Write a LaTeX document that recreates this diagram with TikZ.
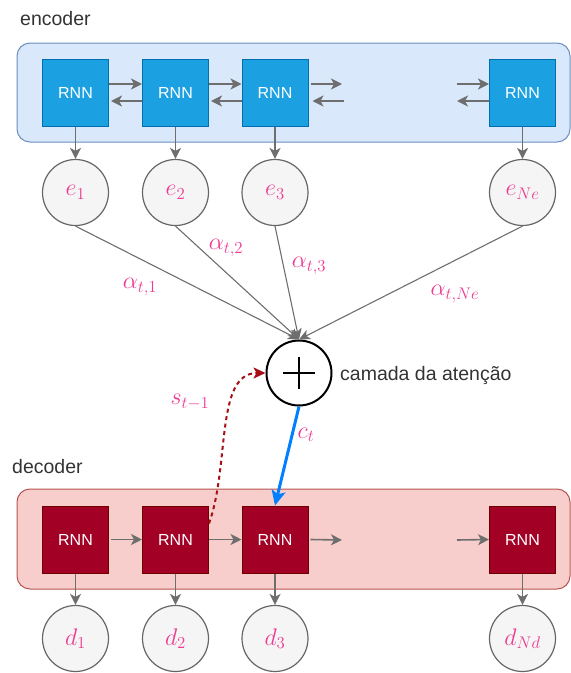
\RequirePackage{fix-cm}
\documentclass[tikz,border=0pt]{standalone}
\usepackage{fontspec}
\setmainfont{Liberation Sans}
\usetikzlibrary{arrows.meta,calc}
\definecolor{encfill}{HTML}{DAE8FC}
\definecolor{encline}{HTML}{6C8EBF}
\definecolor{encbox}{HTML}{1BA1E2}
\definecolor{encboxline}{HTML}{006EAF}
\definecolor{decfill}{HTML}{F8CECC}
\definecolor{decline}{HTML}{B85450}
\definecolor{decbox}{HTML}{A20025}
\definecolor{decboxline}{HTML}{6F0000}
\definecolor{circfill}{HTML}{F5F5F5}
\definecolor{circline}{HTML}{666666}
\definecolor{arrgray}{HTML}{6E6E6E}
\definecolor{pinkm}{HTML}{EE3A92}
\definecolor{ctblue}{HTML}{007FFF}
\definecolor{dotred}{HTML}{A50F15}
\definecolor{txt}{HTML}{333333}
\begin{document}
\begin{tikzpicture}[x=1pt,y=-1pt,
  container/.style={rectangle, rounded corners=13pt, line width=1pt, minimum width=553pt, inner sep=0pt},
  rnnbox/.style={rectangle, minimum width=66pt, minimum height=67pt, inner sep=0pt, line width=1pt, text=white, font=\fontsize{16}{19}\selectfont},
  encrnn/.style={rnnbox, draw=encboxline, fill=encbox},
  decrnn/.style={rnnbox, draw=decboxline, fill=decbox},
  circ/.style={circle, draw=circline, fill=circfill, minimum size=66pt, inner sep=0pt, line width=1.2pt, text=pinkm, font=\fontsize{24}{28}\selectfont},
  mlabel/.style={text=pinkm, font=\fontsize{24}{28}\selectfont, inner sep=0pt},
  plainlabel/.style={text=txt, font=\fontsize{19.5}{23}\selectfont, inner sep=0pt, anchor=west},
  garrow/.style={draw=arrgray, line width=1.6pt, -{Stealth[length=11pt,width=11pt,inset=3pt]}},
  farrow/.style={draw=arrgray, line width=1.1pt, -{Stealth[length=11pt,width=10pt,inset=3pt]}},
  ctarrow/.style={draw=ctblue, line width=3pt, -{Stealth[length=15pt,width=14pt,inset=3.5pt]}},
  redarrow/.style={draw=dotred, line width=2pt, dash pattern=on 4pt off 3.5pt, -{Stealth[length=12pt,width=11pt,inset=3pt]}}
]
\useasboundingbox (0,0) rectangle (571,673);

% labels
\node[plainlabel] (enclabel) at (20,19) {encoder};
\node[plainlabel] (declabel) at (12,467) {decoder};

% containers
\node[container, fill=encfill, draw=encline, minimum height=99pt] (enc) at (293.5,92.5) {};
\node[container, fill=decfill, draw=decline, minimum height=100pt] (dec) at (293.5,539) {};

% encoder RNNs
\node[encrnn] (eb1) at (75.5,93) {RNN};
\node[encrnn] (eb2) at (175.5,93) {RNN};
\node[encrnn] (eb3) at (275,93) {RNN};
\node[encrnn] (eb4) at (522.5,93) {RNN};

% decoder RNNs
\node[decrnn] (db1) at (75.5,539.5) {RNN};
\node[decrnn] (db2) at (175.5,539.5) {RNN};
\node[decrnn] (db3) at (275,539.5) {RNN};
\node[decrnn] (db4) at (522.5,539.5) {RNN};

% encoder outputs
\node[circ] (e1) at (75.5,192.5) {$e_1$};
\node[circ] (e2) at (175.5,192.5) {$e_2$};
\node[circ] (e3) at (275,192.5) {$e_3$};
\node[circ] (eNe) at (522.5,192.5) {$e_{Ne}$};

% decoder outputs
\node[circ] (d1) at (75.5,638.5) {$d_1$};
\node[circ] (d2) at (175.5,638.5) {$d_2$};
\node[circ] (d3) at (275,638.5) {$d_3$};
\node[circ] (dNd) at (522.5,638.5) {$d_{Nd}$};

% attention layer
\node[circle, draw=black, fill=white, line width=2pt, minimum size=65pt, inner sep=0pt] (plus) at (299,373) {};
\draw[line width=2pt] ($(plus.center)+(-16,0)$) -- ($(plus.center)+(16,0)$);
\draw[line width=2pt] ($(plus.center)+(0,-16)$) -- ($(plus.center)+(0,16)$);
\node[plainlabel] (attlabel) at (340,375) {camada da atenção};

% encoder horizontal arrows
\draw[garrow] ([yshift=9pt]eb1.east) -- ([yshift=9pt]eb2.west);
\draw[garrow] ([yshift=-8pt]eb2.west) -- ([yshift=-8pt,xshift=2pt]eb1.east);
\draw[garrow] ([yshift=9pt]eb2.east) -- ([yshift=9pt]eb3.west);
\draw[garrow] ([yshift=-8pt]eb3.west) -- ([yshift=-8pt,xshift=2pt]eb2.east);
\coordinate (eo1) at (342,84);
\coordinate (eo2) at (344,101);
\coordinate (ei1) at (457,84);
\coordinate (ei2) at (457,101);
\draw[garrow] ([yshift=9pt,xshift=2pt]eb3.east) -- (eo1);
\draw[garrow] (eo2) -- ([yshift=-8pt,xshift=4pt]eb3.east);
\draw[garrow] (ei1) -- ([yshift=9pt]eb4.west);
\draw[garrow] ([yshift=-8pt]eb4.west) -- (ei2);

% decoder horizontal arrows
\coordinate (do1) at (342,540);
\coordinate (di1) at (457,540);
\draw[garrow] ([xshift=2pt]db1.east) -- (db2.west);
\draw[garrow] (db2.east) -- (db3.west);
\draw[garrow] ([xshift=2pt]db3.east) -- (do1);
\draw[garrow] (di1) -- (db4.west);

% vertical arrows
\foreach \b/\c in {eb1/e1, eb2/e2, eb3/e3, eb4/eNe, db1/d1, db2/d2, db3/d3, db4/dNd}
  \draw[garrow] (\b.south) -- (\c.north);

% attention weights
\draw[farrow] (e1.south) -- (plus.north);
\draw[farrow] (e2.south) -- (plus.north);
\draw[farrow] (e3.south) -- (plus.north);
\draw[farrow] (eNe.south) -- (plus.north);
\node[mlabel] (a1) at (140,287) {$\alpha_{t,1}$};
\node[mlabel] (a2) at (226,248) {$\alpha_{t,2}$};
\node[mlabel] (a3) at (309,266) {$\alpha_{t,3}$};
\node[mlabel] (aNe) at (455,294) {$\alpha_{t,Ne}$};

% context vector and state
\draw[ctarrow] (plus.south) -- (db3.north);
\node[mlabel] (ct) at (306,435) {$c_t$};
\draw[redarrow] ([yshift=16pt]db2.east) .. controls (230,465) and (215,373) .. (plus.west);
\node[mlabel] (st) at (190,402) {$s_{t-1}$};
\end{tikzpicture}
\end{document}
